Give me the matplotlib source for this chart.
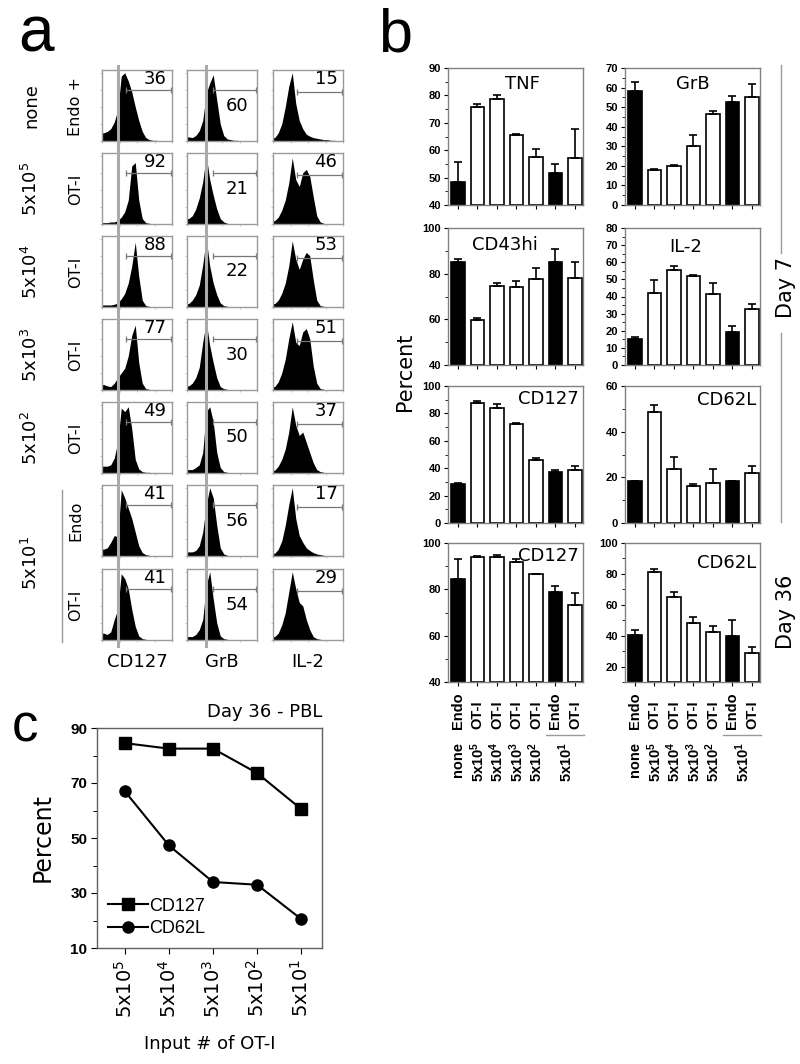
import numpy as np
import matplotlib
matplotlib.use("Agg")
import matplotlib.pyplot as plt
from matplotlib.lines import Line2D

plt.rcParams["font.family"] = ["DejaVu Sans"]
plt.rcParams["mathtext.default"] = "regular"

# ---------------- data ----------------
# panel a: flow histograms (relative counts, 20 log bins over 10^0..10^4)
row_dose = ["none", "5x10$^5$", "5x10$^4$", "5x10$^3$", "5x10$^2$", "5x10$^1$", ""]
row_cells = ["Endo +", "OT-I", "OT-I", "OT-I", "OT-I", "Endo", "OT-I"]
hist_markers = ["CD127", "GrB", "IL-2"]
pct_cd127 = [36, 92, 88, 77, 49, 41, 41]
pct_grb = [60, 21, 22, 30, 50, 56, 54]
pct_il2 = [15, 46, 53, 51, 37, 17, 29]

hist_cd127 = [
    [0.12, 0.14, 0.18, 0.28, 0.45, 0.95, 1.0, 0.88, 0.72, 0.5, 0.3, 0.14, 0.05, 0.02, 0.01, 0.01, 0, 0, 0, 0],
    [0.02, 0.02, 0.03, 0.03, 0.05, 0.1, 0.18, 0.35, 0.85, 0.9, 0.35, 0.08, 0.02, 0.01, 0, 0, 0, 0, 0, 0],
    [0.03, 0.03, 0.03, 0.04, 0.06, 0.12, 0.2, 0.35, 0.6, 0.95, 0.45, 0.1, 0.02, 0.01, 0, 0, 0, 0, 0, 0],
    [0.08, 0.06, 0.05, 0.1, 0.18, 0.25, 0.32, 0.5, 0.8, 0.95, 0.4, 0.1, 0.02, 0.01, 0, 0, 0, 0, 0, 0],
    [0.1, 0.1, 0.12, 0.22, 0.45, 0.95, 0.9, 0.97, 0.65, 0.2, 0.06, 0.02, 0.01, 0.01, 0, 0, 0, 0, 0, 0],
    [0.1, 0.12, 0.2, 0.3, 0.28, 0.97, 0.85, 0.7, 0.55, 0.35, 0.15, 0.05, 0.02, 0.01, 0, 0, 0, 0, 0, 0],
    [0.1, 0.08, 0.12, 0.3, 0.45, 0.97, 0.9, 0.75, 0.45, 0.2, 0.06, 0.02, 0.01, 0, 0, 0, 0, 0, 0, 0],
]
hist_grb = [
    [0.06, 0.05, 0.08, 0.15, 0.3, 0.7, 0.85, 0.97, 0.6, 0.25, 0.08, 0.03, 0.02, 0.01, 0.01, 0, 0, 0, 0, 0],
    [0.08, 0.12, 0.22, 0.38, 0.62, 1.0, 0.65, 0.42, 0.22, 0.08, 0.03, 0.01, 0, 0, 0, 0, 0, 0, 0, 0],
    [0.05, 0.1, 0.18, 0.32, 0.62, 1.0, 0.6, 0.35, 0.18, 0.06, 0.02, 0.01, 0, 0, 0, 0, 0, 0, 0, 0],
    [0.06, 0.1, 0.18, 0.33, 0.7, 1.0, 0.65, 0.4, 0.18, 0.05, 0.02, 0.01, 0, 0, 0, 0, 0, 0, 0, 0],
    [0.05, 0.05, 0.08, 0.12, 0.3, 0.9, 0.97, 0.75, 0.3, 0.08, 0.02, 0.01, 0, 0, 0, 0, 0, 0, 0, 0],
    [0.06, 0.06, 0.08, 0.15, 0.35, 0.75, 1.0, 0.85, 0.45, 0.12, 0.03, 0.01, 0, 0, 0, 0, 0, 0, 0, 0],
    [0.05, 0.05, 0.08, 0.15, 0.3, 0.8, 1.0, 0.6, 0.25, 0.06, 0.02, 0.01, 0, 0, 0, 0, 0, 0, 0, 0],
]
hist_il2 = [
    [0.05, 0.12, 0.25, 0.5, 0.8, 1.0, 0.55, 0.3, 0.18, 0.1, 0.07, 0.05, 0.04, 0.03, 0.02, 0.02, 0.01, 0.01, 0, 0],
    [0.05, 0.1, 0.2, 0.35, 0.6, 0.97, 0.65, 0.55, 0.75, 0.8, 0.7, 0.4, 0.12, 0.03, 0.01, 0, 0, 0, 0, 0],
    [0.05, 0.1, 0.2, 0.35, 0.6, 0.97, 0.7, 0.55, 0.7, 0.8, 0.75, 0.4, 0.1, 0.02, 0.01, 0, 0, 0, 0, 0],
    [0.05, 0.12, 0.25, 0.45, 0.75, 1.0, 0.7, 0.65, 0.85, 0.9, 0.75, 0.35, 0.1, 0.02, 0.01, 0, 0, 0, 0, 0],
    [0.04, 0.1, 0.2, 0.35, 0.6, 0.97, 0.7, 0.55, 0.6, 0.45, 0.3, 0.15, 0.05, 0.02, 0.01, 0, 0, 0, 0, 0],
    [0.04, 0.1, 0.22, 0.45, 0.75, 1.0, 0.55, 0.3, 0.2, 0.12, 0.08, 0.05, 0.03, 0.02, 0.01, 0, 0, 0, 0, 0],
    [0.05, 0.1, 0.22, 0.4, 0.7, 1.0, 0.75, 0.55, 0.5, 0.3, 0.15, 0.05, 0.02, 0.01, 0, 0, 0, 0, 0, 0],
]

# panel b: bar charts (mean, upper error)
bar_top = ["Endo", "OT-I", "OT-I", "OT-I", "OT-I", "Endo", "OT-I"]
bar_bottom = ["none", "5x10$^5$", "5x10$^4$", "5x10$^3$", "5x10$^2$"]
bar_black = [True, False, False, False, False, True, False]

tnf_mean = [48.5, 75.6, 78.7, 65.6, 57.6, 51.5, 57.0]
tnf_err = [7.3, 1.2, 1.5, 0.2, 2.7, 3.5, 10.6]
grb_mean = [58.5, 17.9, 20.0, 30.0, 46.4, 52.4, 55.1]
grb_err = [4.3, 0.5, 0.3, 5.8, 1.4, 3.4, 6.5]
cd43_mean = [84.9, 59.8, 74.4, 74.1, 77.8, 84.9, 78.2]
cd43_err = [1.7, 1.0, 1.5, 2.9, 4.7, 6.1, 6.9]
il2_mean = [15.0, 41.9, 55.2, 52.1, 41.4, 19.5, 32.6]
il2_err = [1.2, 7.5, 2.8, 0.4, 6.4, 3.3, 2.9]
cd127_d7_mean = [28.4, 87.9, 83.7, 72.1, 46.1, 36.9, 38.6]
cd127_d7_err = [0.7, 0.9, 3.0, 0.7, 1.0, 1.9, 2.7]
cd62l_d7_mean = [18.5, 48.6, 23.6, 16.3, 17.5, 18.5, 22.1]
cd62l_d7_err = [0.0, 2.9, 5.1, 0.7, 6.1, 0.0, 2.9]
cd127_d36_mean = [84.3, 93.8, 93.8, 91.9, 86.5, 78.8, 73.4]
cd127_d36_err = [8.7, 0.7, 1.2, 1.1, 0.3, 2.6, 5.1]
cd62l_d36_mean = [40.7, 81.5, 65.0, 48.3, 42.4, 39.6, 29.1]
cd62l_d36_err = [2.8, 1.5, 3.5, 3.9, 3.6, 10.4, 3.3]

# panel c: day 36 PBL
input_labels = ["5x10$^5$", "5x10$^4$", "5x10$^3$", "5x10$^2$", "5x10$^1$"]
pbl_cd127 = [84.5, 82.5, 82.5, 73.6, 60.5]
pbl_cd62l = [67.0, 47.3, 34.0, 33.0, 20.5]

# ---------------- figure ----------------
W, H = 800, 1064
fig = plt.figure(figsize=(8, 10.64), dpi=100)


def pax(x0, y0, x1, y1):
    # axes from a pixel box (top-left origin)
    return fig.add_axes([x0 / W, 1 - y1 / H, (x1 - x0) / W, (y1 - y0) / H])


def ftext(x, y, s, **kw):
    return fig.text(x / W, 1 - y / H, s, **kw)


def fline(xs, ys, **kw):
    fig.add_artist(Line2D([x / W for x in xs], [1 - y / H for y in ys], **kw))


GRAY = "#9a9a9a"

# panel letters
ftext(18, 52, "a", fontsize=46, family="Liberation Sans")
ftext(378, 52, "b", fontsize=44, family="Liberation Sans")
ftext(12, 742, "c", fontsize=38, family="Liberation Sans")

# ---------------- panel a ----------------
col_x = [102, 187, 273]
row_y = [70, 153, 236, 319, 402, 485, 569]
bin_x = np.linspace(0.1, 3.9, 20)
gate_start = [1.37, 1.46, 1.37]
gate_y = [0.74, 0.75, 0.72]
all_hist = [hist_cd127, hist_grb, hist_il2]
all_pct = [pct_cd127, pct_grb, pct_il2]

for c in range(3):
    for r in range(7):
        ax = pax(col_x[c], row_y[r], col_x[c] + 70, row_y[r] + 71)
        h = np.array(all_hist[c][r])
        xs = np.concatenate([[0], bin_x, [4]])
        ys = np.concatenate([[h[0]], h, [0]])
        ax.fill_between(xs, 0, ys, color="black", lw=0)
        ax.set_xlim(0, 4)
        ax.set_ylim(0, 1.04)
        for s in ax.spines.values():
            s.set_color(GRAY)
            s.set_linewidth(1)
        ax.set_xticks([0, 1, 2, 3, 4])
        ax.set_yticks([0, 0.25, 0.5, 0.75, 1.0])
        ax.tick_params(length=1.5, width=0.4, colors=GRAY, labelleft=False, labelbottom=False)
        ax.plot([gate_start[c], 3.95], [gate_y[c], gate_y[c]], color="#777777", lw=0.9,
                marker="|", markersize=4, markeredgewidth=0.9)
        if c == 1:
            ax.text(0.72, 0.5, str(all_pct[c][r]), transform=ax.transAxes, fontsize=13,
                    ha="center", va="center")
        else:
            ax.text(0.92, 0.87, str(all_pct[c][r]), transform=ax.transAxes, fontsize=13,
                    ha="right", va="center")

# grey marker-threshold lines running through the columns
fline([118, 118], [66, 646], color="#aaaaaa", lw=2.2)
fline([206, 206], [66, 646], color="#aaaaaa", lw=2.2)

for r in range(7):
    cy = row_y[r] + 36
    ftext(76, cy, row_cells[r], rotation=90, fontsize=11.5, ha="center", va="center")
    if r < 5:
        ftext(31, cy, row_dose[r], rotation=90, fontsize=13, ha="center", va="center")
ftext(31, (row_y[5] + row_y[6] + 71) / 2, row_dose[5], rotation=90, fontsize=13,
      ha="center", va="center")
fline([62, 62], [490, 642], color=GRAY, lw=1)

for c in range(3):
    ftext(col_x[c] + 35, 662, hist_markers[c], fontsize=13, ha="center", va="center")

# ---------------- panel b ----------------
bx = [(448, 583), (625, 760)]
by = [(68, 205), (228, 365), (386, 523), (543, 682)]
panels = [
    (0, 0, "TNF", tnf_mean, tnf_err, (40, 90), np.arange(40, 91, 10), 5, 0.55, 0.95),
    (0, 1, "GrB", grb_mean, grb_err, (0, 70), np.arange(0, 71, 10), 5, 0.50, 0.95),
    (1, 0, "CD43hi", cd43_mean, cd43_err, (40, 100), np.arange(40, 101, 20), 10, 0.42, 0.94),
    (1, 1, "IL-2", il2_mean, il2_err, (0, 80), np.arange(0, 81, 10), 5, 0.45, 0.93),
    (2, 0, "CD127", cd127_d7_mean, cd127_d7_err, (0, 100), np.arange(0, 101, 20), 10, None, 0.97),
    (2, 1, "CD62L", cd62l_d7_mean, cd62l_d7_err, (0, 60), np.arange(0, 61, 20), 10, None, 0.96),
    (3, 0, "CD127", cd127_d36_mean, cd127_d36_err, (40, 100), np.arange(40, 101, 20), 10, None, 0.97),
    (3, 1, "CD62L", cd62l_d36_mean, cd62l_d36_err, (10, 100), np.arange(20, 101, 20), 10, None, 0.92),
]
xpos = np.arange(7)
x_lo, x_hi = -0.51, 6.41
for r, c, title, mean, err, ylim, ticks, minor, tx, ty in panels:
    ax = pax(bx[c][0], by[r][0], bx[c][1], by[r][1])
    colors = ["black" if b else "white" for b in bar_black]
    ax.bar(xpos, np.array(mean) - ylim[0], bottom=ylim[0], width=0.68, color=colors,
           edgecolor="black", linewidth=1.2, zorder=2)
    ax.errorbar(xpos, mean, yerr=[np.zeros(7), err], fmt="none", ecolor="black",
                elinewidth=1.2, capsize=3, capthick=1.2, zorder=3)
    ax.set_xlim(x_lo, x_hi)
    ax.set_ylim(*ylim)
    ax.set_yticks(ticks)
    ax.set_yticks(np.arange(ylim[0], ylim[1] + 0.1, minor), minor=True)
    ax.set_xticks(xpos)
    ax.set_xticklabels([])
    ax.tick_params(axis="y", length=3, width=0.8, labelsize=8, pad=2)
    ax.tick_params(axis="y", which="minor", length=2, width=0.6)
    ax.tick_params(axis="x", length=3, width=0.8)
    for lab in ax.get_yticklabels():
        lab.set_fontweight("bold")
        lab.set_family("Liberation Sans")
    for s in ax.spines.values():
        s.set_color("#808080")
        s.set_linewidth(1)
    if tx is not None:
        ax.text(tx, ty, title, transform=ax.transAxes, fontsize=13, ha="center", va="top")
    else:
        ax.text(0.97, ty, title, transform=ax.transAxes, fontsize=13, ha="right", va="top")

    if r == 3:
        span = bx[c][1] - bx[c][0]

        def to_px(i):
            return bx[c][0] + (i - x_lo) / (x_hi - x_lo) * span

        for i in range(7):
            ftext(to_px(i), 729, bar_top[i], rotation=90, fontsize=10.5, fontweight="bold",
                  family="Liberation Sans", ha="center", va="bottom")
            if i < 5:
                ftext(to_px(i), 742, bar_bottom[i], rotation=90, fontsize=10.5,
                      fontweight="bold", family="Liberation Sans", ha="center", va="top")
        fline([to_px(5) - 9, to_px(6) + 9], [735, 735], color=GRAY, lw=1)
        ftext(to_px(5.5), 742, "5x10$^1$", rotation=90, fontsize=10.5, fontweight="bold",
              family="Liberation Sans", ha="center", va="top")

ftext(405, 372, "Percent", rotation=90, fontsize=15, ha="center", va="center")
fline([781, 781], [65, 253], color=GRAY, lw=1)
fline([781, 781], [333, 522], color=GRAY, lw=1)
ftext(786, 287, "Day 7", rotation=90, fontsize=15, ha="center", va="center")
ftext(786, 612, "Day 36", rotation=90, fontsize=15, ha="center", va="center")

# ---------------- panel c ----------------
ax = pax(97, 728, 322, 948)
xi = np.arange(len(input_labels))
ax.plot(xi, pbl_cd127, color="black", marker="s", markersize=8, lw=1.5, label="CD127")
ax.plot(xi, pbl_cd62l, color="black", marker="o", markersize=8, lw=1.5, label="CD62L")
ax.set_xlim(-0.63, 4.47)
ax.set_ylim(10, 90)
ax.set_yticks([10, 30, 50, 70, 90])
ax.set_yticks([20, 40, 60, 80], minor=True)
ax.set_xticks(xi)
ax.set_xticklabels(input_labels, rotation=90, fontsize=14)
ax.tick_params(axis="y", length=4, width=0.8, labelsize=11, pad=3)
ax.tick_params(axis="y", which="minor", length=3, width=0.7)
ax.tick_params(axis="x", length=4, width=0.8, pad=4)
for lab in ax.get_yticklabels():
    lab.set_fontweight("bold")
    lab.set_family("Liberation Sans")
for s in ax.spines.values():
    s.set_color("#606060")
    s.set_linewidth(1)
ax.set_ylabel("Percent", fontsize=17, labelpad=11)
ax.set_xlabel("Input # of OT-I", fontsize=13, labelpad=12)
ax.set_title("Day 36 - PBL", fontsize=13, loc="right", pad=8)
ax.legend(loc="lower left", frameon=False, handlelength=2.2,
          handletextpad=0.1, borderaxespad=0.2, labelspacing=0.3,
          prop={"family": "Liberation Sans", "size": 13})

fig.savefig("out.png", dpi=100)
